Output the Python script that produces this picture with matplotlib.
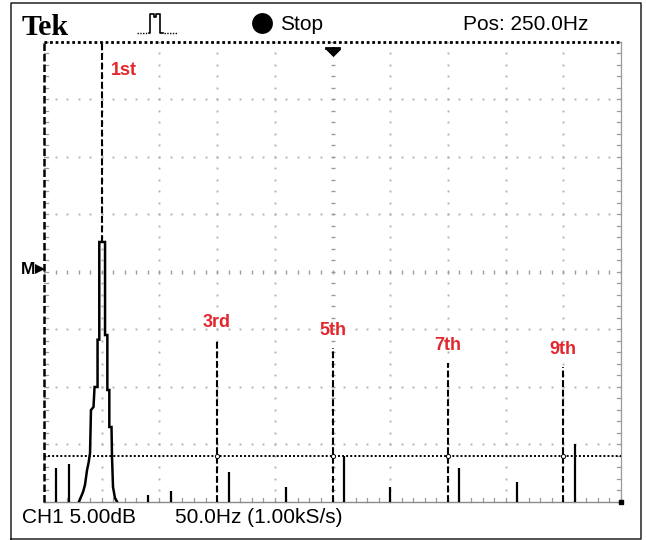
import numpy as np
import matplotlib
matplotlib.use("Agg")
import matplotlib.pyplot as plt
from matplotlib.lines import Line2D

# scope settings shown on screen
hz_per_div = 50.0
db_per_div = 5.0
pos_hz = 250.0
n_xdiv, n_ydiv = 10, 8

# fundamental (50 Hz) lobe, traced as a stepped outline
peak_hz = [30.3, 33.8, 35.5, 37.3, 38.6, 39.9, 40.7, 42.9, 43.8, 46.4, 46.4, 47.9, 47.9,
           52.9, 52.9, 54.9, 54.9, 56.6, 56.6, 58.5, 58.9, 59.8, 61.5, 63.3]
peak_db = [0.0, 0.84, 1.45, 2.76, 3.37, 4.24, 7.98, 8.24, 9.98, 9.98, 14.1, 14.1, 22.6,
           22.6, 14.5, 14.5, 9.72, 9.72, 6.5, 6.5, 4.06, 1.28, 0.32, 0.0]

# odd harmonics
harm_hz = [150, 250, 350, 450]
harm_db = [14.1, 13.4, 12.1, 11.7]
harm_labels = ["3rd", "5th", "7th", "9th"]

# other small spectral lines
side_hz = [10, 22, 90, 110, 160, 210, 260, 300, 360, 410, 460]
side_db = [2.9, 3.3, 0.6, 0.9, 2.6, 1.3, 4.0, 1.3, 2.9, 1.7, 5.0]

ref_level = 4.0

W, H = 646, 540
red = "#e3262b"
grey = "#b3b3b3"
scope_font = ["Liberation Sans", "DejaVu Sans"]


def fx(px):
    return px / W


def fy(py):
    return 1 - py / H


fig = plt.figure(figsize=(W / 100, H / 100), dpi=100)

# outer frame
fig.add_artist(Line2D([fx(11), fx(11), fx(641), fx(641), fx(11)],
                      [fy(538.5), fy(3), fy(3), fy(538.5), fy(538.5)],
                      color="#222222", lw=1.1))

ax = fig.add_axes([fx(44), fy(501.7), fx(621) - fx(44), fy(42) - fy(501.7)])
xmax = n_xdiv * hz_per_div
ymax = n_ydiv * db_per_div
ax.set_xlim(0, xmax)
ax.set_ylim(0, ymax)
ax.axis("off")

minor_x = np.arange(0, xmax + 1, hz_per_div / 5)
minor_y = np.arange(0, ymax + 0.1, db_per_div / 5)

# dotted graticule
for k in range(1, n_xdiv):
    if k == n_xdiv // 2:
        continue
    ax.plot(np.full(len(minor_y), k * hz_per_div), minor_y, ls="none",
            marker="s", ms=1.4, color=grey, mew=0)
for k in range(1, n_ydiv):
    if k == n_ydiv // 2:
        continue
    ax.plot(minor_x, np.full(len(minor_x), k * db_per_div), ls="none",
            marker="s", ms=1.4, color=grey, mew=0)

# center cross with tick marks
ax.plot(minor_x, np.full(len(minor_x), ymax / 2), ls="none", marker="|",
        ms=3.5, mew=1.0, color="#9a9a9a")
ax.plot(np.full(len(minor_y), xmax / 2), minor_y, ls="none", marker="_",
        ms=3.5, mew=1.0, color="#9a9a9a")

# edge ticks
tx = 3.5
ty = 0.3
for y in minor_y:
    ax.plot([0, tx], [y, y], color="#9a9a9a", lw=0.9, clip_on=False)
    ax.plot([xmax - tx, xmax], [y, y], color="#9a9a9a", lw=0.9, clip_on=False)
for x in minor_x:
    ax.plot([x, x], [0, ty], color="#9a9a9a", lw=0.9, clip_on=False)

# graticule border
ax.plot([xmax, xmax], [0, ymax], color="#9a9a9a", lw=0.9, clip_on=False)
ax.plot([0, xmax], [0, 0], color="#8a8a8a", lw=1.0, clip_on=False)
ax.plot([0, xmax], [ymax, ymax], color="k", lw=2.0, ls=(0, (1, 1)), clip_on=False)
ax.plot([0, 0], [0, ymax], color="k", lw=1.8, ls=(0, (3, 1.2)), clip_on=False)
ax.plot(xmax, 0, marker="s", ms=3, color="k", clip_on=False)

# reference level line
ax.plot([0, xmax], [ref_level, ref_level], color="k", lw=1.4, ls=(0, (1, 1.1)))

# spectrum
ax.vlines(side_hz, 0, side_db, color="k", lw=1.6)
ax.plot(peak_hz, peak_db, color="k", lw=1.8, solid_joinstyle="miter")
ax.plot([50, 50], [max(peak_db), ymax], color="k", lw=1.5, ls=(0, (3.3, 1.3)))
for hz, db in zip(harm_hz, harm_db):
    ax.plot([hz, hz], [0, db], color="k", lw=1.5, ls=(0, (3.3, 1.3)))
ax.plot(harm_hz, [ref_level] * len(harm_hz), ls="none", marker="o", ms=3,
        mfc="white", mec="k", mew=0.7)

# harmonic labels
ax.text(69.3, 37.5, "1st", color=red, fontsize=13, fontweight="bold",
        family="Liberation Sans", ha="center", va="center")
for hz, db, lab in zip(harm_hz, harm_db, harm_labels):
    ax.text(hz, db + 1.5, lab, color=red, fontsize=13, fontweight="bold",
            family="Liberation Sans", ha="center", va="center")

# position marker at top
ax.plot([pos_hz - 6, pos_hz + 6], [39.5, 39.5], color="k", lw=2.0, clip_on=False)
ax.plot([pos_hz, pos_hz], [39.5, 39.3], color="k", lw=2.0, clip_on=False)
ax.plot(pos_hz, 39.35, marker=[(-1, 0), (1, 0), (0, -1)], ms=11, color="k",
        mew=0, clip_on=False)

# header
fig.text(fx(22), fy(35), "Tek", family="Liberation Serif", fontweight="bold",
         fontsize=21.5, va="baseline")
fig.add_artist(Line2D([fx(137), fx(148)], [fy(33), fy(33)], color="k", lw=1.0,
                      ls=(0, (1, 1))))
fig.add_artist(Line2D([fx(149), fx(150), fx(150), fx(154), fx(154), fx(156), fx(156),
                       fx(160), fx(160), fx(163)],
                      [fy(33), fy(33), fy(14), fy(14), fy(17), fy(17), fy(14),
                       fy(14), fy(33), fy(33)], color="k", lw=1.2))
fig.add_artist(Line2D([fx(164), fx(177)], [fy(33), fy(33)], color="k", lw=1.0,
                      ls=(0, (1, 1))))
fig.add_artist(Line2D([fx(261.5)], [fy(22.5)], marker="o", ms=15, color="k", mew=0))
fig.text(fx(280), fy(29.5), "Stop", family=scope_font, fontsize=15, va="baseline")
fig.text(fx(463), fy(29.5), "Pos: 250.0Hz", family=scope_font, fontsize=15,
         va="baseline")

# reference marker on the left
fig.text(fx(21), fy(269), "M", family=scope_font, fontsize=12.5, fontweight="bold",
         va="center")
fig.add_artist(Line2D([fx(39.5)], [fy(269.5)], marker=">", ms=6.5, color="k", mew=0))

# footer
fig.text(fx(22), fy(523), "CH1 5.00dB", family=scope_font, fontsize=15, va="baseline")
fig.text(fx(175), fy(523), "50.0Hz (1.00kS/s)", family=scope_font, fontsize=15,
         va="baseline")

fig.savefig("out.png", dpi=100)
